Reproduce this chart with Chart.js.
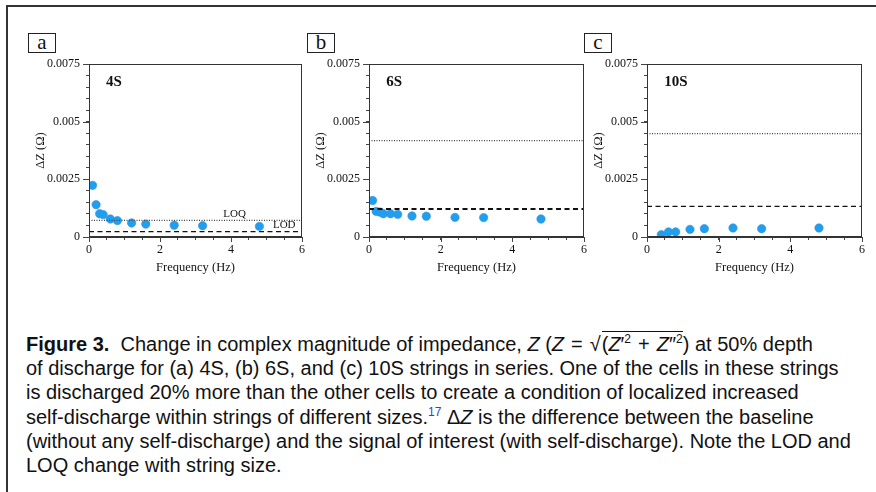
<!DOCTYPE html>
<html>
<head>
<meta charset="utf-8">
<script src="https://cdn.jsdelivr.net/npm/chart.js@4.4.1/dist/chart.umd.min.js"></script>
<style>
  html, body { margin: 0; padding: 0; background: #fff; }
  body { width: 876px; height: 492px; position: relative; overflow: hidden; }
  .frame { position: absolute; left: 6px; top: 5px; width: 900px; height: 520px;
           border-left: 2px solid #333; border-top: 2px solid #333; }
  .panel { position: absolute; }
  .tag { position: absolute; width: 26px; height: 18px; border: 1px solid #222;
         font-family: "Liberation Serif", serif; font-size: 21px; line-height: 16px;
         text-align: center; color: #111; }
  .caption { position: absolute; left: 26px; top: 332px; width: 850px;
             font-family: "Liberation Sans", Arial, sans-serif; font-size: 20px;
             line-height: 24.2px; color: #111; white-space: nowrap; }
  .caption b { font-weight: bold; }
  .caption sup { font-size: 12px; line-height: 0; vertical-align: 8px; }
  .ref { color: #2f3fd8; }
  .rad { border-top: 1px solid #111; padding-top: 1px; margin-left: 1px; }
  .op { margin: 0 7px; }
</style>
</head>
<body>
<div class="frame"></div>

<div class="tag" style="left:28px; top:33px;">a</div>
<div class="tag" style="left:307px; top:33px;">b</div>
<div class="tag" style="left:584px; top:33px;">c</div>

<canvas id="chartA" class="panel" style="left:30px; top:50px;"></canvas>
<canvas id="chartB" class="panel" style="left:310px; top:50px;"></canvas>
<canvas id="chartC" class="panel" style="left:588px; top:50px;"></canvas>

<div class="caption">
<b>Figure 3.</b>&nbsp; Change in complex magnitude of impedance, <i>Z</i> (<i>Z</i><span class="op">=</span>√<span class="rad">(<i>Z</i>′<sup>2</sup><span class="op">+</span><i>Z</i>″<sup>2</sup></span>) at 50% depth<br>
of discharge for (a) 4S, (b) 6S, and (c) 10S strings in series. One of the cells in these strings<br>
is discharged 20% more than the other cells to create a condition of localized increased<br>
self-discharge within strings of different sizes.<sup class="ref">17</sup> Δ<i>Z</i> is the difference between the baseline<br>
(without any self-discharge) and the signal of interest (with self-discharge). Note the LOD and<br>
LOQ change with string size.
</div>

<script>
// Frequency (Hz) and delta Z (ohm)
const freqA = [0.1, 0.2, 0.3, 0.4, 0.6, 0.8, 1.2, 1.6, 2.4, 3.2, 4.8];
const dzA = [0.00224, 0.0014, 0.00101, 0.00097, 0.00078, 0.00071, 0.00061, 0.00056, 0.00051, 0.00049, 0.00046];

const freqB = [0.1, 0.2, 0.3, 0.4, 0.6, 0.8, 1.2, 1.6, 2.4, 3.2, 4.8];
const dzB = [0.00158, 0.00111, 0.00108, 0.00101, 0.00101, 0.00098, 0.00091, 0.0009, 0.00085, 0.00084, 0.00078];

const freqC = [0.4, 0.6, 0.8, 1.2, 1.6, 2.4, 3.2, 4.8];
const dzC = [0.0001, 0.00022, 0.00022, 0.00033, 0.00036, 0.00039, 0.00036, 0.00039];

// limit of quantification / detection for each string size
const loqLevels = [0.00072, 0.00418, 0.00448];
const lodLevels = [0.00023, 0.00121, 0.00133];
const stringNames = ['4S', '6S', '10S'];

const xRange = [0, 6];
const yRange = [0, 0.0075];
const yMajorTicks = [0, 0.0025, 0.005, 0.0075];
const xMajorTicks = [0, 2, 4, 6];

const serif = '"Liberation Serif", "Times New Roman", serif';

// box around plot, longer major ticks, text notes
const boxPlugin = {
  id: 'boxAndNotes',
  afterDatasetsDraw(chart, args, opts) {
    const { ctx, chartArea, scales } = chart;
    ctx.save();
    ctx.strokeStyle = '#333';
    ctx.lineWidth = 1;
    ctx.strokeRect(chartArea.left + 0.5, chartArea.top + 0.5,
      chartArea.right - chartArea.left - 1, chartArea.bottom - chartArea.top - 1);

    // major ticks a bit longer than the minor ones
    ctx.strokeStyle = '#444';
    ctx.beginPath();
    yMajorTicks.forEach(v => {
      const py = Math.round(scales.y.getPixelForValue(v)) + 0.5;
      ctx.moveTo(chartArea.left - 6, py);
      ctx.lineTo(chartArea.left, py);
    });
    xMajorTicks.forEach(v => {
      const px = Math.round(scales.x.getPixelForValue(v)) + 0.5;
      ctx.moveTo(px, chartArea.bottom);
      ctx.lineTo(px, chartArea.bottom + 5);
    });
    ctx.stroke();

    ctx.fillStyle = '#111';
    ctx.font = 'bold 15px ' + serif;
    ctx.textBaseline = 'middle';
    ctx.textAlign = 'left';
    ctx.fillText(opts.name, scales.x.getPixelForValue(0.48), scales.y.getPixelForValue(0.0067));

    if (opts.showLabels) {
      ctx.font = '11px ' + serif;
      ctx.textAlign = 'center';
      ctx.textBaseline = 'bottom';
      ctx.fillText('LOQ', scales.x.getPixelForValue(4.1), scales.y.getPixelForValue(opts.loq) - 1);
      ctx.fillText('LOD', scales.x.getPixelForValue(5.5), scales.y.getPixelForValue(opts.lod) - 1);
    }
    ctx.restore();
  }
};

function isMajor(v, list) {
  return list.some(m => Math.abs(m - v) < 1e-9);
}

function makePanel(id, freq, dz, idx, width, dashWidth) {
  const canvas = document.getElementById(id);
  canvas.width = width;
  canvas.height = 230;
  canvas.style.width = width + 'px';
  canvas.style.height = '230px';

  const points = freq.map((f, i) => ({ x: f, y: dz[i] }));

  return new Chart(canvas.getContext('2d'), {
    type: 'scatter',
    data: {
      datasets: [
        {
          label: 'LOQ',
          type: 'line',
          data: [{ x: xRange[0], y: loqLevels[idx] }, { x: xRange[1], y: loqLevels[idx] }],
          borderColor: '#444',
          borderWidth: 1.3,
          borderDash: [1, 1.5],
          pointRadius: 0,
          fill: false
        },
        {
          label: 'LOD',
          type: 'line',
          data: [{ x: xRange[0], y: lodLevels[idx] }, { x: xRange[1], y: lodLevels[idx] }],
          borderColor: '#111',
          borderWidth: dashWidth,
          borderDash: [5, 3.5],
          pointRadius: 0,
          fill: false
        },
        {
          label: stringNames[idx],
          data: points,
          backgroundColor: '#1e9ff0',
          borderColor: '#3a8ed6',
          borderWidth: 0.6,
          pointRadius: 4.2
        }
      ]
    },
    options: {
      responsive: false,
      animation: false,
      layout: { padding: { top: 14, right: 10, left: 0, bottom: 0 } },
      plugins: {
        legend: { display: false },
        tooltip: { enabled: false },
        boxAndNotes: { name: stringNames[idx], loq: loqLevels[idx], lod: lodLevels[idx], showLabels: idx === 0 }
      },
      scales: {
        x: {
          type: 'linear',
          min: xRange[0],
          max: xRange[1],
          afterFit: (s) => { s.height = 43; },
          ticks: {
            stepSize: 0.5,
            autoSkip: false,
            maxRotation: 0,
            padding: 3,
            color: '#111',
            font: { family: serif, size: 12 },
            callback: (v) => isMajor(v, xMajorTicks) ? String(v) : ''
          },
          grid: { drawOnChartArea: false, drawTicks: true, tickLength: 3, tickColor: '#444' },
          border: { color: '#333' },
          title: { display: true, text: 'Frequency (Hz)', color: '#111',
                   font: { family: serif, size: 12.5 }, padding: { top: 2, bottom: 5 } }
        },
        y: {
          type: 'linear',
          min: yRange[0],
          max: yRange[1],
          afterFit: (s) => { s.width = 59; },
          ticks: {
            stepSize: 0.0005,
            autoSkip: false,
            padding: 6,
            color: '#111',
            font: { family: serif, size: 12 },
            callback: (v) => isMajor(v, yMajorTicks) ? String(+v.toFixed(4)) : ''
          },
          grid: { drawOnChartArea: false, drawTicks: true, tickLength: 3, tickColor: '#444' },
          border: { color: '#333' },
          title: { display: true, text: 'ΔZ (Ω)', color: '#111',
                   font: { family: serif, size: 12.5 }, padding: { top: 3, bottom: 0 } }
        }
      }
    },
    plugins: [boxPlugin]
  });
}

makePanel('chartA', freqA, dzA, 0, 282, 1.2);
makePanel('chartB', freqB, dzB, 1, 284, 2);
makePanel('chartC', freqC, dzC, 2, 284, 1.2);
</script>
</body>
</html>
